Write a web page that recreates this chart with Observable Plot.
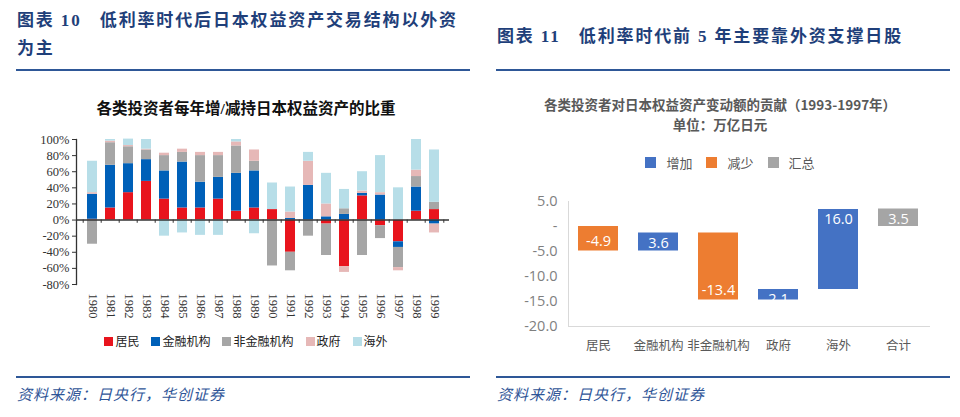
<!DOCTYPE html>
<html>
<head>
<meta charset="utf-8">
<script src="https://cdn.jsdelivr.net/npm/d3@7"></script>
<script src="https://cdn.jsdelivr.net/npm/@observablehq/plot@0.6"></script>
<style>
  html, body { margin: 0; padding: 0; background: #fff; }
  #page { position: relative; width: 960px; height: 417px; overflow: hidden; font-family: "Liberation Serif", "Noto Sans CJK SC", serif; }
  .abs { position: absolute; }
  .title { color: #1f3f7a; font-weight: bold; font-size: 17px; line-height: 28px; letter-spacing: 1.85px; white-space: nowrap; }
  .hline { position: absolute; height: 2px; background: #2e5797; }
  .source { color: #2f5597; font-style: italic; font-size: 15px; letter-spacing: 1px; font-family: "Noto Sans CJK SC", sans-serif; }
  .legend { display: flex; justify-content: center; align-items: center; white-space: nowrap; }
  .legend .item { display: flex; align-items: center; }
  .legend .sw { display: inline-block; }
</style>
</head>
<body>
<div id="page">
  <div class="abs title" style="left:17px; top:7px;">图表 10&nbsp;&nbsp;&nbsp;低利率时代后日本权益资产交易结构以外资<br>为主</div>
  <div class="hline" style="left:16px; top:69px; width:454px;"></div>
  <div class="abs" style="left:0; top:96px; width:492px; text-align:center; font-weight:bold; font-size:15.5px; color:#111; font-family:'Liberation Serif','Noto Sans CJK SC',serif;">各类投资者每年增/减持日本权益资产的比重</div>
  <div id="left" class="abs" style="left:0; top:125px;"></div>
  <div id="legendL" class="abs legend" style="left:0; top:332px; width:492px; font-size:12px; color:#222;"></div>
  <div class="hline" style="left:16px; top:376px; width:454px;"></div>
  <div class="abs source" style="left:17px; top:383px;">资料来源：日央行，华创证券</div>

  <div class="abs title" style="left:497px; top:23px;">图表 11&nbsp;&nbsp;&nbsp;低利率时代前 5 年主要靠外资支撑日股</div>
  <div class="hline" style="left:496px; top:69px; width:454px;"></div>
  <div class="abs" style="left:480px; top:94px; width:480px; text-align:center; font-weight:bold; font-size:13.5px; line-height:20px; color:#595959; font-family:'Noto Sans CJK SC',sans-serif;">各类投资者对日本权益资产变动额的贡献（1993-1997年）<br>单位：万亿日元</div>
  <div id="legendR" class="abs legend" style="left:480px; top:153px; width:500px; font-size:13px; color:#595959; font-family:'Noto Sans CJK SC',sans-serif;"></div>
  <div id="right" class="abs" style="left:480px; top:190px;"></div>
  <div class="hline" style="left:496px; top:376px; width:454px;"></div>
  <div class="abs source" style="left:497px; top:383px;">资料来源：日央行，华创证券</div>
</div>
<script>
// ---------- Left chart data (share of annual net buying/selling, %) ----------
const years = ["1980","1981","1982","1983","1984","1985","1986","1987","1988","1989",
               "1990","1991","1992","1993","1994","1995","1996","1997","1998","1999"];
const investorTypes = ["居民", "金融机构", "非金融机构", "政府", "海外"];
const investorColors = ["#e8141d", "#0060b8", "#a6a6a6", "#e6b8b7", "#b7dee8"];
const resident     = [1, 15, 34, 48, 26, 15, 15, 26, 11, 15, 13, -40, 0, -5, -58, 30, -7, -27, 11, 13];
const financial    = [31, 53, 36, 27, 35, 57, 32, 27, 47, 46, 0, 2, 43, 4, 7, 3, 31, -7, 30, -5];
const nonFinancial = [-30, 28, 21, 12, 19, 12, 33, 27, 34, 12, -57, -23, -20, -39, 7, -44, -16, -25, 13, 9];
const government   = [2, 2, 1.5, 1, 3, 4, 4, 4, 5, 14, 0, 8, 30, 16, -7, 3, 3, -4, 8, -11];
const overseas     = [39, 2, 8, 12, -20, -16, -19, -19, 3, -17, 33, 31, 11, 38, 24, 24, 46, 40, 38, 65];
const yTicksL = [100, 80, 60, 40, 20, 0, -20, -40, -60, -80];

// ---------- Right chart data (trillion yen, 1993-1997) ----------
const contribCats = ["居民", "金融机构", "非金融机构", "政府", "海外"];
const contribVals = [-4.9, 3.6, -13.4, 2.1, 16.0];
const totalLabel = "合计";
const totalVal = 3.5;
const typeNames = ["增加", "减少", "汇总"];
const typeColors = ["#4472c4", "#ed7d31", "#a5a5a5"];
const yTicksR = [5, 0, -5, -10, -15, -20];

// ---------- Left chart ----------
const series = [resident, financial, nonFinancial, government, overseas];
const tidy = [];
years.forEach((yr, i) => investorTypes.forEach((t, k) => tidy.push({year: yr, type: t, value: series[k][i]})));

const WL = 470, mlL = 76, mrL = 21;
const stepL = (WL - mlL - mrL) / (years.length - 0.45 + 0.5);
const left = Plot.plot({
  width: WL, height: 205,
  marginLeft: mlL, marginRight: mrL, marginTop: 14, marginBottom: 46,
  style: {fontFamily: "'Liberation Serif', serif", fontSize: "12px", color: "#333", background: "transparent"},
  x: {domain: years, paddingInner: 0.45, paddingOuter: 0.25},
  y: {domain: [-80, 100]},
  color: {domain: investorTypes, range: investorColors},
  marks: [
    Plot.barY(tidy, {x: "year", y: "value", fill: "type", order: investorTypes}),
    Plot.ruleY([0], {stroke: "#333", strokeWidth: 1.5}),
    Plot.ruleX(years, {x: d => d, y1: 0, y2: -4, dx: -stepL / 2, stroke: "#333"}),
    Plot.ruleX([years[years.length - 1]], {x: d => d, y1: 0, y2: -4, dx: stepL / 2, stroke: "#333"}),
    Plot.frame({anchor: "left", stroke: "#333", strokeWidth: 1.3}),
    Plot.axisY({ticks: yTicksL, tickFormat: d => d + "%", tickSize: 4, tickPadding: 3, fontSize: 12.5, label: null}),
    Plot.axisX({anchor: "bottom", tickSize: 0, tickRotate: 90, tickPadding: 9, fontSize: 12.5, label: null})
  ]
});
document.getElementById("left").appendChild(left);

const legL = document.getElementById("legendL");
investorTypes.forEach((t, k) => {
  const it = document.createElement("span");
  it.className = "item";
  it.style.margin = "0 6px";
  it.innerHTML = `<span class="sw" style="width:9px;height:9px;background:${investorColors[k]};margin-right:2px;"></span><span>${t}</span>`;
  legL.appendChild(it);
});

// ---------- Right chart (waterfall) ----------
let run = 0;
const wf = contribCats.map((c, i) => {
  const start = run;
  run = run + contribVals[i];
  return {cat: c, start, end: run, type: contribVals[i] >= 0 ? "增加" : "减少", label: contribVals[i].toFixed(1)};
});
wf.push({cat: totalLabel, start: 0, end: totalVal, type: "汇总", label: totalVal.toFixed(1)});

const right = Plot.plot({
  width: 480, height: 171,
  marginLeft: 88, marginRight: 31, marginTop: 11, marginBottom: 35,
  style: {fontFamily: "'Noto Sans CJK SC', 'Liberation Sans', sans-serif", fontSize: "12px", color: "#7f7f7f", background: "transparent"},
  x: {domain: [...contribCats, totalLabel], paddingInner: 0.33, paddingOuter: 0.17},
  y: {domain: [-20, 5]},
  color: {domain: typeNames, range: typeColors},
  marks: [
    Plot.frame({anchor: "left", stroke: "#d9d9d9"}),
    Plot.frame({anchor: "bottom", stroke: "#d9d9d9"}),
    Plot.barY(wf, {x: "cat", y1: "start", y2: "end", fill: "type"}),
    Plot.text(wf.filter(d => d.type !== "减少"), {x: "cat", y: "end", text: "label", dy: 10, fill: "white", fontSize: 14.5, fontFamily: "'Open Sans', sans-serif"}),
    Plot.text(wf.filter(d => d.type === "减少"), {x: "cat", y: "end", text: "label", dy: -10, fill: "white", fontSize: 14.5, fontFamily: "'Open Sans', sans-serif"}),
    Plot.axisY({ticks: yTicksR, tickFormat: d => d === 0 ? "-" : d.toFixed(1), tickSize: 0, tickPadding: 11, fontSize: 14.5, fontFamily: "'Open Sans', sans-serif", label: null}),
    Plot.axisX({anchor: "bottom", tickSize: 0, tickPadding: 15, fontSize: 12.5, fill: "#595959", label: null})
  ]
});
document.getElementById("right").appendChild(right);

const legR = document.getElementById("legendR");
typeNames.forEach((t, k) => {
  const it = document.createElement("span");
  it.className = "item";
  it.style.margin = "0 7px";
  it.innerHTML = `<span class="sw" style="width:11px;height:11px;background:${typeColors[k]};margin-right:10px;"></span><span>${t}</span>`;
  legR.appendChild(it);
});
</script>
</body>
</html>
